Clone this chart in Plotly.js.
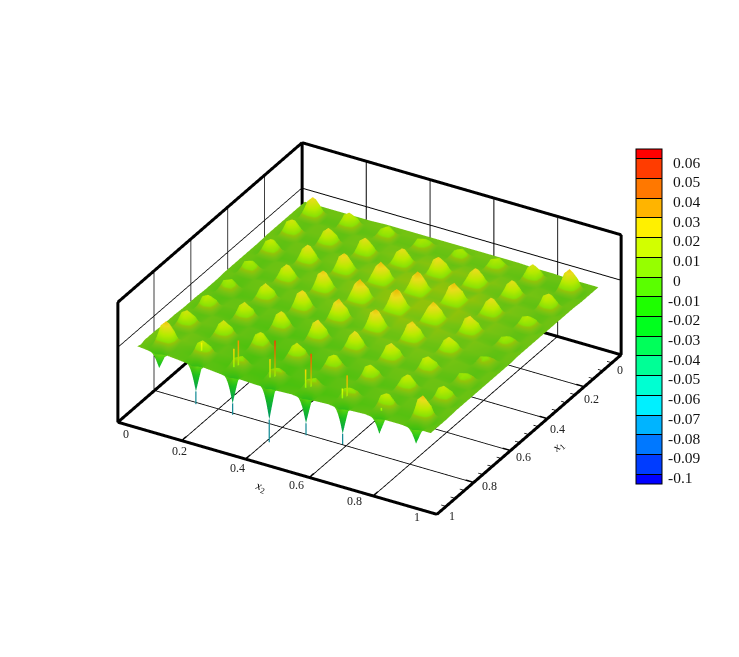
<!DOCTYPE html>
<html><head><meta charset="utf-8"><script src="https://cdn.plot.ly/plotly-3.0.0.min.js"></script>
<style>html,body{margin:0;padding:0;background:#fff}</style></head><body><div id="chart" style="width:739px;height:657px"></div>
<script>
const x2Values=[.052,.0755,.0925,.1095,.1265,.1435,.1905,.2075,.2245,.2415,.2585,.3055,.3225,.3395,.3565,.3735,.4205,.4375,.4545,.4715,.4885,.5355,.5525,.5695,.5865,.6035,.6505,.6675,.6845,.7015,.7185,.7655,.7825,.7995,.8165,.8335,.8805,.8975,.9145,.9315,.9485,.972];
const x1Values=[.075,.0979,.1149,.1319,.1489,.1659,.2116,.2286,.2456,.2626,.2796,.3253,.3423,.3593,.3763,.3933,.439,.456,.473,.49,.507,.5527,.5697,.5867,.6037,.6207,.6664,.6834,.7004,.7174,.7344,.7801,.7971,.8141,.8311,.8481,.8938,.9108,.9278,.9448,.965,.985];
// surface height in thousandths, one row per x1 value
const zRows=[
[5,5,5,5,5,5,5,5,5,5,5,6,6,6,6,6,6,6,6,6,6,6,6,6,6,6,6,6,6,6,6,5,5,5,5,5,4,4,4,4,4,4],
[5,5,3,2,3,5,5,3,2,3,5,6,4,3,4,6,6,4,3,4,6,6,4,3,4,6,6,4,3,4,6,5,3,2,3,5,4,2,1,2,4,4],
[5,3,17,25,16,3,3,14,18,15,3,4,12,17,11,4,4,11,14,12,4,4,12,15,10,4,4,11,17,12,4,3,16,20,15,3,2,17,27,19,2,4],
[5,2,24,32,23,2,2,20,25,18,2,3,15,20,17,3,3,16,18,14,3,3,14,18,16,3,3,17,20,15,3,2,20,27,22,2,1,27,35,25,1,4],
[5,3,16,23,18,3,3,15,19,13,3,4,11,15,13,4,4,12,16,10,4,4,10,14,12,4,4,13,16,11,4,3,14,22,16,3,2,19,25,17,2,4],
[5,5,3,2,3,5,5,3,2,3,5,6,4,3,4,6,6,4,3,4,6,6,4,3,4,6,6,4,3,4,6,5,3,2,3,5,4,2,1,2,4,4],
[5,5,3,2,3,5,5,3,2,3,5,6,4,3,4,6,8,6,5,6,8,9,7,6,7,9,8,6,5,6,8,6,4,3,4,6,5,3,2,3,5,5],
[5,3,14,21,13,3,3,16,22,17,3,4,18,23,16,4,6,18,25,17,6,7,20,26,21,7,6,18,26,19,6,4,17,24,16,4,3,15,20,13,3,5],
[5,2,21,26,19,2,2,22,29,21,2,3,24,30,22,3,5,23,30,25,5,6,27,33,25,6,5,24,32,26,5,3,22,30,24,3,2,21,26,19,2,5],
[5,3,13,19,15,3,3,17,23,15,3,4,16,22,18,4,6,17,23,19,6,7,19,27,19,7,6,20,24,18,6,4,16,22,18,4,3,13,21,15,3,5],
[5,5,3,2,3,5,5,3,2,3,5,6,4,3,4,6,8,6,5,6,8,9,7,6,7,9,8,6,5,6,8,6,4,3,4,6,5,3,2,3,5,5],
[4,4,2,1,2,4,5,3,2,3,5,7,5,4,5,7,9,7,6,7,9,10,8,7,8,10,10,8,7,8,10,7,5,4,5,7,5,3,2,3,5,5],
[4,2,13,19,12,2,3,17,25,16,3,5,19,27,18,5,7,22,28,23,7,8,23,31,22,8,8,22,28,23,8,5,18,25,17,5,3,12,15,13,3,5],
[4,1,19,24,17,1,2,23,31,25,2,4,27,34,25,4,6,28,37,30,6,7,29,38,31,7,7,30,37,28,7,4,23,31,25,4,2,17,20,15,2,5],
[4,2,12,17,14,2,3,16,23,18,3,5,18,25,20,5,7,23,30,21,7,8,22,29,24,8,8,23,30,21,8,5,17,23,19,5,3,13,17,11,3,5],
[4,4,2,1,2,4,5,3,2,3,5,7,5,4,5,7,9,7,6,7,9,10,8,7,8,10,10,8,7,8,10,7,5,4,5,7,5,3,2,3,5,5],
[4,4,2,1,2,4,5,3,2,3,5,6,4,3,4,6,8,6,5,6,8,10,8,7,8,10,9,7,6,7,9,7,5,4,5,7,5,3,2,3,5,5],
[4,2,11,15,10,2,3,16,23,15,3,4,19,28,18,4,6,22,29,23,6,8,23,32,22,8,7,20,28,22,7,5,18,23,19,5,3,10,13,11,3,5],
[4,1,16,19,14,1,2,21,29,23,2,3,28,35,26,3,5,29,38,31,5,7,31,39,29,7,6,26,36,29,6,4,25,31,23,4,2,14,17,12,2,5],
[4,2,10,14,12,2,3,15,21,17,3,4,18,26,20,4,6,23,31,21,6,8,22,30,24,8,7,22,27,20,7,5,17,25,17,5,3,11,15,9,3,5],
[4,4,2,1,2,4,5,3,2,3,5,6,4,3,4,6,8,6,5,6,8,10,8,7,8,10,9,7,6,7,9,7,5,4,5,7,5,3,2,3,5,5],
[3,3,1,0,1,3,4,2,1,2,4,4,2,1,2,4,5,3,2,3,5,7,5,4,5,7,7,5,4,5,7,6,4,3,4,6,4,2,1,2,4,4],
[3,1,10,15,9,1,2,15,20,16,2,2,17,26,16,2,3,19,26,20,3,5,20,29,19,5,5,19,25,20,5,4,15,20,16,4,2,8,10,9,2,4],
[3,0,15,18,13,0,1,20,28,22,1,1,26,33,24,1,2,28,36,26,2,4,29,36,27,4,4,27,34,25,4,3,20,27,22,3,1,12,14,10,1,4],
[3,1,9,14,11,1,2,14,22,14,2,2,16,24,18,2,3,20,28,18,3,5,19,27,21,5,5,20,27,18,5,4,14,22,15,4,2,7,12,8,2,4],
[3,3,1,0,1,3,4,2,1,2,4,4,2,1,2,4,5,3,2,3,5,7,5,4,5,7,7,5,4,5,7,6,4,3,4,6,4,2,1,2,4,4],
[4,4,2,1,2,4,3,1,0,1,3,2,0,-1,0,2,3,1,0,1,3,4,2,1,2,4,5,3,2,3,5,5,3,2,3,5,4,2,1,2,4,4],
[4,2,12,16,13,2,1,14,19,15,1,0,14,22,13,0,1,16,23,17,1,2,16,24,15,2,3,16,21,17,3,3,14,18,15,3,2,9,12,10,2,4],
[4,1,18,22,16,1,0,20,27,21,0,-1,22,29,20,-1,0,25,32,23,0,1,22,31,25,1,2,23,29,21,2,2,20,25,18,2,1,14,16,12,1,4],
[4,2,11,18,12,2,1,13,21,14,1,0,13,20,15,0,1,17,25,15,1,2,15,22,17,2,3,17,23,15,3,3,13,20,14,3,2,8,14,9,2,4],
[4,4,2,1,2,4,3,1,0,1,3,2,0,-1,0,2,3,1,0,1,3,4,2,1,2,4,5,3,2,3,5,5,3,2,3,5,4,2,1,2,4,4],
[5,5,3,2,3,5,3,1,0,1,3,1,-1,-2,-1,1,1,-1,-2,-1,1,2,0,-1,0,2,3,1,0,1,3,4,2,1,2,4,4,2,1,2,4,4],
[5,3,14,19,15,3,1,14,19,15,1,-1,12,19,11,-1,-1,12,17,13,-1,0,11,18,10,0,1,12,17,13,1,2,13,20,12,2,2,13,17,14,2,4],
[5,2,21,26,19,2,0,19,27,21,0,-2,19,25,16,-2,-2,18,25,20,-2,-1,18,23,16,-1,0,19,24,17,0,1,18,25,20,1,1,19,24,17,1,4],
[5,3,13,21,14,3,1,13,21,13,1,-1,11,17,13,-1,-1,13,19,11,-1,0,12,16,11,0,1,11,19,12,1,2,14,18,13,2,2,12,19,13,2,4],
[5,5,3,2,3,5,3,1,0,1,3,1,-1,-2,-1,1,1,-1,-2,-1,1,2,0,-1,0,2,3,1,0,1,3,4,2,1,2,4,4,2,1,2,4,4],
[6,6,4,3,4,6,3,1,0,1,3,1,-1,-2,-1,1,0,-2,-3,-2,0,1,-1,-2,-1,1,2,0,-1,0,2,3,1,0,1,3,3,1,0,1,3,3],
[6,4,19,29,20,4,1,12,17,13,1,-1,8,13,8,-1,-2,7,11,8,-2,-1,7,12,6,-1,0,9,12,10,0,1,12,19,11,1,1,18,27,19,1,3],
[6,3,28,36,25,3,0,18,24,16,0,-2,12,16,10,-2,-3,11,15,12,-3,-2,12,15,9,-2,-1,14,17,12,-1,0,19,24,17,0,0,28,36,26,0,3],
[6,2,14,18,13,2,1,7,9,7,1,-1,3,4,3,-1,-2,2,3,2,-2,-1,2,3,2,-1,0,3,4,3,0,1,7,9,7,1,1,12,17,11,1,3],
[4,2,-4,-22,-4,2,1,-6,-40,-6,1,0,-7,-42,-7,0,-1,-8,-50,-8,-1,0,-7,-40,-7,0,1,-6,-40,-6,1,2,-4,-25,-4,2,2,-5,-24,-5,2,3],
[6,5,4,2,4,5,3,2,0,2,3,1,0,-1,0,1,0,0,-2,0,0,1,0,-1,0,1,2,1,-1,1,2,3,2,0,2,3,3,2,0,2,3,3]
];
// thin upward spikes and downward needles: x2, x1, top height
const upX2=[.228,.343,.332,.458,.445,.571,.557,.684,.672,.797];
const upX1=[.94,.94,.945,.94,.945,.94,.945,.94,.945,.95];
const upTop=[.024,.042,.03,.057,.03,.053,.03,.037,.018,.008];
const downX2=[.2245,.3395,.4545,.5695,.6845];
const downStart=[-.04,-.042,-.05,-.04,-.04];
const downTip=[-.058,-.058,-.082,-.057,-.055];
const bandLevels=[0.06,0.05,0.04,0.03,0.02,0.01,0,-0.01,-0.02,-0.03,-0.04,-0.05,-0.06,-0.07,-0.08,-0.09,-0.1];
const bandLabels=['0.06','0.05','0.04','0.03','0.02','0.01','0','-0.01','-0.02','-0.03','-0.04','-0.05','-0.06','-0.07','-0.08','-0.09','-0.1'];
const bandColors=['#0000ff','#003cff','#0078ff','#00b4ff','#00f0ff','#00ffd2','#00ff96','#00ff5a','#00ff1e','#1eff00','#5aff00','#96ff00','#d2ff00','#fff000','#ffb400','#ff7800','#ff3c00','#ff0000'];
const tickValues=[0,0.2,0.4,0.6,0.8,1];
const tickLabels=['0','0.2','0.4','0.6','0.8','1'];
const minorValues=[.05,.1,.15,.25,.3,.35,.45,.5,.55,.65,.7,.75,.85,.9,.95];
const zMin=-0.105,zMax=0.065;
const smooth=[[0,'#0000ff'],[0.25,'#00ffff'],[0.5,'#00ff00'],[0.75,'#ffff00'],[1,'#ff0000']];
// shaded look of the surface (the reference's lit colours), by height
const surfaceStopZ=[-.105,-.07,-.04,-.015,-.002,.002,.006,.01,.012,.02,.03,.04,.065];
const surfaceStopColor=['#0000ff','#007896','#00aa5a','#1ec81e','#55d20f','#69d214','#80d414','#a0d40a','#96f505','#c8ff00','#fff01e','#ffbe00','#ff0000'];
const surfaceScale=surfaceStopZ.map((z,i)=>[(z-zMin)/(zMax-zMin),surfaceStopColor[i]]);

// stepped scale for the legend bar
const edgesV=[zMin].concat(bandLevels.slice().reverse(),[zMax]);
const stepped=[];
bandColors.forEach((c,i)=>{const a=(edgesV[i]-zMin)/(zMax-zMin),b=(edgesV[i+1]-zMin)/(zMax-zMin);stepped.push([a,c],[b,c]);});

const PAGE_W=739,PAGE_H=657,BAR_TOP=149,BAR_BOTTOM=484;
function labelY(v){const px=BAR_TOP+(zMax-v)/(zMax-zMin)*(BAR_BOTTOM-BAR_TOP)+3.3;return 1-px/PAGE_H;}

// frame edges [x,y,zFlag] pairs
const frame=[[0,1,0,0,1,1],[0,0,0,0,0,1],[1,0,0,1,0,1],[0,1,1,0,0,1],[0,0,1,1,0,1],[0,1,0,1,1,0],[1,1,0,1,0,0],[0,1,0,0,0,0],[0,0,0,1,0,0]];
const frameTraces=frame.map(e=>({type:'scatter3d',mode:'lines',x:[e[0],e[3]],y:[e[1],e[4]],z:[e[2]?zMax:zMin,e[5]?zMax:zMin],line:{color:'#000',width:6},showlegend:false,hoverinfo:'skip'}));
const mx=[],my=[],mz=[];
minorValues.forEach(v=>{mx.push(1,0.985,null);my.push(v,v,null);mz.push(zMin,zMin,null);});
const tx=[],ty=[],tz=[];
tickValues.forEach(v=>{tx.push(1,0.975,null);ty.push(v,v,null);tz.push(zMin,zMin,null);tx.push(v,v,null);ty.push(1,0.975,null);tz.push(zMin,zMin,null);});
const ux=[],uy=[],uz=[];
upX2.forEach((v,i)=>{ux.push(v,v,null);uy.push(upX1[i],upX1[i],null);uz.push(0.004,upTop[i],null);});
const dx=[],dy=[],dz=[];
downX2.forEach((v,i)=>{dx.push(v,v,null);dy.push(.965,.965,null);dz.push(downStart[i],downTip[i],null);});

const axis={range:[-0.002,1.002],tickmode:'array',tickvals:tickValues,ticktext:tickLabels,showticklabels:false,showgrid:true,gridcolor:'#000',gridwidth:2,showbackground:false,zeroline:false,showline:false,ticks:'',title:{text:''},showspikes:false};
const data=[
{type:'surface',x:x2Values,y:x1Values,z:zRows.map(r=>r.map(v=>v/1000)),cmin:zMin,cmax:zMax,colorscale:surfaceScale,showscale:false,hoverinfo:'skip',
 lighting:{ambient:0.92,diffuse:0.25,specular:0,roughness:0.5,fresnel:0},lightposition:{x:0,y:10000,z:0}},
{type:'scatter3d',mode:'lines',x:ux,y:uy,z:uz,connectgaps:false,line:{color:uz,cmin:zMin,cmax:zMax,colorscale:smooth,width:3},showlegend:false,hoverinfo:'skip'},
{type:'scatter3d',mode:'lines',x:dx,y:dy,z:dz,connectgaps:false,line:{color:'#168c96',width:2.5},showlegend:false,hoverinfo:'skip'},
{type:'scatter3d',mode:'lines',x:mx,y:my,z:mz,connectgaps:false,line:{color:'#000',width:1.5},showlegend:false,hoverinfo:'skip'},
{type:'scatter3d',mode:'lines',x:tx,y:ty,z:tz,connectgaps:false,line:{color:'#000',width:3},showlegend:false,hoverinfo:'skip'},
{type:'scatter3d',mode:'markers',x:[.5,.5],y:[.5,.5],z:[zMin,zMax],showlegend:false,hoverinfo:'skip',
 marker:{size:1,opacity:0,color:[zMin,zMax],cmin:zMin,cmax:zMax,colorscale:stepped,showscale:true,
  colorbar:{x:636/PAGE_W,xanchor:'left',xpad:0,ypad:0,y:(PAGE_H-BAR_BOTTOM)/PAGE_H,yanchor:'bottom',len:(BAR_BOTTOM-BAR_TOP)/PAGE_H,lenmode:'fraction',thickness:26,thicknessmode:'pixels',outlinewidth:1,outlinecolor:'#000',borderwidth:0,tickmode:'array',tickvals:bandLevels,ticks:'inside',ticklen:26,tickcolor:'#000',tickwidth:1,showticklabels:false}}}
].concat(frameTraces);
const annotations=bandLabels.map((t,i)=>({text:t,xref:'paper',yref:'paper',x:(bandLevels[i]<0?666:671)/PAGE_W,y:labelY(bandLevels[i]),xanchor:'left',yanchor:'middle',showarrow:false,font:{family:'Liberation Serif',size:15.5,color:'#111'}}));
annotations.push({text:'<i>x</i><sub>2</sub>',xref:'paper',yref:'paper',x:260/PAGE_W,y:1-487/PAGE_H,xanchor:'center',yanchor:'middle',showarrow:false,textangle:16,font:{family:'Liberation Serif',size:12,color:'#000'}});
annotations.push({text:'<i>x</i><sub>1</sub>',xref:'paper',yref:'paper',x:558/PAGE_W,y:1-447/PAGE_H,xanchor:'center',yanchor:'middle',showarrow:false,textangle:-42,font:{family:'Liberation Serif',size:12,color:'#000'}});
// tick labels anchored to the axes through the scene's own scales; offsets in screen pixels
const x2ShiftX=[8,-2,-8,-13,-19,-20],x2ShiftY=[-12,-10,-9,-8,-5,-3];
const x1ShiftX=[-1,7,10,13,16,15],x1ShiftY=[-15,-12,-10,-6,-4,-2];
const tickFont={family:'Liberation Serif',size:12,color:'#222'};
const sceneNotes=[];
tickValues.forEach((v,i)=>{
 sceneNotes.push({x:v,y:1,z:zMin,text:tickLabels[i],showarrow:false,xshift:x2ShiftX[i],yshift:x2ShiftY[i],font:tickFont});
 sceneNotes.push({x:1,y:tickValues[i],z:zMin,text:tickLabels[i],showarrow:false,xshift:x1ShiftX[i],yshift:x1ShiftY[i],font:tickFont});
});
const layout={width:PAGE_W,height:PAGE_H,margin:{l:0,r:0,t:0,b:0},paper_bgcolor:'#fff',showlegend:false,annotations,
scene:{domain:{x:[0,1],y:[0,1]},aspectmode:'manual',aspectratio:{x:1.126,y:1.126,z:0.4233},annotations:sceneNotes,
xaxis:axis,yaxis:Object.assign({},axis,{range:[1.002,-0.002]}),zaxis:Object.assign({},axis,{range:[zMin-0.0003,zMax+0.0003],tickvals:[0],ticktext:['']}),
camera:{projection:{type:'orthographic'},eye:{x:0.667,y:-1.155,z:0.77},up:{x:0,y:0,z:1},center:{x:0,y:0,z:0}}}};
Plotly.newPlot('chart',data,layout,{displayModeBar:false});
</script></body></html>
